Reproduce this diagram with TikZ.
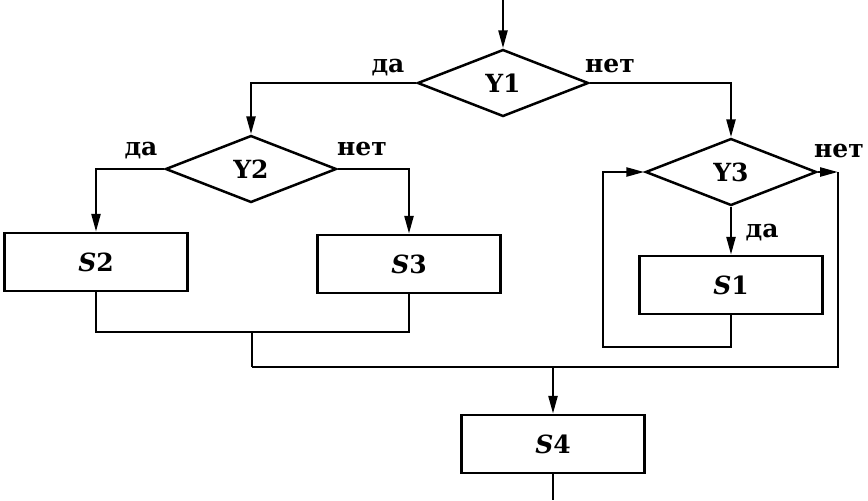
\documentclass[tikz,border=0pt]{standalone}
\usepackage{fontspec}
\setmainfont{DejaVu Serif}
\usepackage{tikz}
\usetikzlibrary{arrows.meta, positioning, shapes.geometric, calc}

\begin{document}
\begin{tikzpicture}[
  x=0.5pt, y=-0.5pt,
  line width=1.25pt,
  every node/.style={font=\fontsize{12.5}{15}\selectfont\bfseries},
  cond/.style={draw, diamond, inner sep=0pt, minimum width=85.5pt, minimum height=33.5pt},
  cmd/.style={draw, rectangle, inner sep=0pt, minimum width=91.5pt, minimum height=29pt},
  arrow/.style={-{Triangle[length=9pt, width=4.5pt]}},
  lbl/.style={anchor=base, inner sep=0pt}
]
\useasboundingbox (0,0) rectangle (868,500);

% Conditions
\node[cond] (y1) at (503,83) {Y1};
\node[cond] (y2) at (251,169) {Y2};
\node[cond] (y3) at (731,172) {Y3};

% Commands
\node[cmd] (s2) at (96,262) {\textit{S}2};
\node[cmd] (s3) at (409,264) {\textit{S}3};
\node[cmd] (s1) at (731,285) {\textit{S}1};
\node[cmd] (s4) at (553,444) {\textit{S}4};

% Branch labels
\node[lbl] (da1) at (388,72) {да};
\node[lbl] (net1) at (610,72) {нет};
\node[lbl] (da2) at (141,155) {да};
\node[lbl] (net2) at (362,155) {нет};
\node[lbl] (net3) at (839,157) {нет};
\node[lbl] (da3) at (762,237) {да};

% Joints
\coordinate (top) at (503,0);
\coordinate (merge) at (252,332);
\coordinate (join) at (252,367);
\coordinate (down) at (553,367);
\coordinate (loop) at (603,347);
\coordinate (exit) at (838,172);
\coordinate (bottom) at (553,500);

% Connectors
\draw[arrow] (top) -- (y1.north);
\draw[arrow] (y1.west) -| (y2.north);
\draw[arrow] (y1.east) -| (y3.north);
\draw[arrow] (y2.west) -| (s2.north);
\draw[arrow] (y2.east) -| (s3.north);
\draw[arrow] (y3.south) -- (s1.north);
\draw[arrow] (s1.south) |- (loop) |- (y3.west);
\draw[arrow] (y3.east) -- (exit);
\draw (s2.south) |- (merge) -| (s3.south);
\draw (merge) -- (join);
\draw (exit) |- (join);
\draw[arrow] (down) -- (s4.north);
\draw (s4.south) -- (bottom);

\end{tikzpicture}
\end{document}
